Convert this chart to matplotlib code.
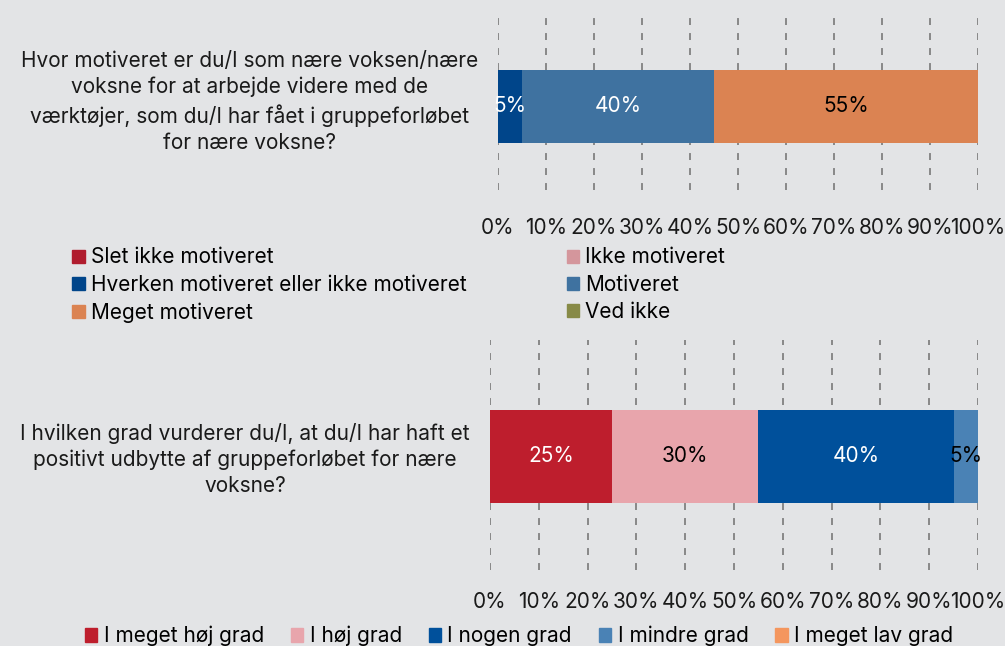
import matplotlib.pyplot as plt
from matplotlib.patches import Patch

plt.rcParams['font.family'] = ['Inter', 'DejaVu Sans']
plt.rcParams['lines.scale_dashes'] = False

# data
question1 = ("Hvor motiveret er du/I som nære voksen/nære\nvoksne for at arbejde videre med de\n"
             "værktøjer, som du/I har fået i gruppeforløbet\nfor nære voksne?")
cats1 = ["Slet ikke motiveret", "Ikke motiveret", "Hverken motiveret eller ikke motiveret",
         "Motiveret", "Meget motiveret", "Ved ikke"]
vals1 = [0, 0, 5, 40, 55, 0]
colors1 = ["#B01C2E", "#D4969C", "#00458A", "#3F72A0", "#DB8352", "#878A47"]
text1 = ["white", "black", "white", "white", "black", "black"]

question2 = ("I hvilken grad vurderer du/I, at du/I har haft et\npositivt udbytte af gruppeforløbet for nære\nvoksne?")
cats2 = ["I meget høj grad", "I høj grad", "I nogen grad", "I mindre grad", "I meget lav grad"]
vals2 = [25, 30, 40, 5, 0]
colors2 = ["#BE1E2D", "#E8A5AC", "#00509B", "#4A82B5", "#F4965E"]
text2 = ["white", "black", "white", "black", "black"]

xticks = [0, 10, 20, 30, 40, 50, 60, 70, 80, 90, 100]
xticklabels = [f"{t}%" for t in xticks]

BG = "#E3E4E6"
W, H = 1005, 646
FS = 15

fig = plt.figure(figsize=(W / 100, H / 100), dpi=100)
fig.patch.set_facecolor(BG)


def px_axes(x0, y0, x1, y1):
    return fig.add_axes([x0 / W, 1 - y1 / H, (x1 - x0) / W, (y1 - y0) / H])


def draw(ax, question, vals, colors, textcols, ylim, height, pad, qpos):
    ax.set_facecolor(BG)
    left = 0
    for v, c, tc in zip(vals, colors, textcols):
        if v > 0:
            ax.barh(0, v, left=left, height=height, color=c, zorder=2)
            ax.text(left + v / 2, 0, f"{v}%", ha="center", va="center",
                    color=tc, fontsize=FS, zorder=3)
        left += v
    ax.set_xlim(0, 100)
    ax.set_ylim(*ylim)
    ax.set_xticks(xticks, labels=xticklabels, fontsize=FS)
    # question label sits centred on the axes, slightly above the bar centre
    ax.set_yticks([qpos], labels=[question], fontsize=FS, multialignment="center",
                  linespacing=1.38)
    ax.tick_params(axis="both", length=0, colors="#1a1a1a")
    ax.tick_params(axis="x", pad=pad)
    ax.tick_params(axis="y", pad=14.4)
    for s in ax.spines.values():
        s.set_visible(False)
    for x in xticks:
        ax.axvline(x, color="#6f6f6f", lw=1.1, linestyle=(0, (5, 5.8)), zorder=1)


ax1 = px_axes(498, 15, 978, 190)
draw(ax1, question1, vals1, colors1, text1, (-0.835, 0.915), 0.73, 20, 0.095)

ax2 = px_axes(490, 340, 978, 570)
draw(ax2, question2, vals2, colors2, text2, (-1.135, 1.165), 0.93, 15.5, 0.02)

order = [0, 2, 4, 1, 3, 5]
h1 = [Patch(color=colors1[i], label=cats1[i]) for i in order]
fig.legend(handles=h1, ncol=2, loc="center left", bbox_to_anchor=(62 / W, 1 - 285 / H),
           frameon=False, fontsize=FS, handlelength=0.6, handleheight=0.6,
           handletextpad=0.3, columnspacing=4.78, labelspacing=0.35, borderpad=0)

h2 = [Patch(color=c, label=l) for c, l in zip(colors2, cats2)]
fig.legend(handles=h2, ncol=5, loc="center", bbox_to_anchor=(519 / W, 1 - 636 / H),
           frameon=False, fontsize=FS, handlelength=0.6, handleheight=0.6,
           handletextpad=0.3, columnspacing=1.29, borderpad=0)

fig.savefig("out.png", dpi=100, facecolor=BG)
